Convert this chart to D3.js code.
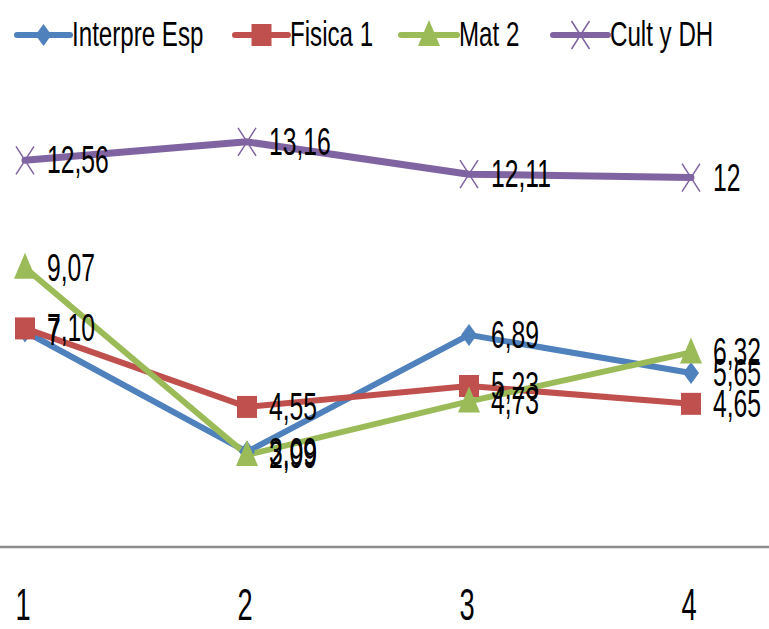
<!DOCTYPE html>
<html>
<head>
<meta charset="utf-8">
<script src="https://cdn.jsdelivr.net/npm/d3@7"></script>
<style>
html,body{margin:0;padding:0;background:#fff;}
svg{display:block;}
text{font-family:"Liberation Sans",Arial,sans-serif;fill:#000;}
</style>
</head>
<body>
<svg id="chart" width="769" height="629"></svg>
<script>
const categories = ["1","2","3","4"];
const seriesNames = ["Interpre Esp","Fisica 1","Mat 2","Cult y DH"];
const interpreEsp = [7.00, 3.09, 6.89, 5.65];
const fisica1 = [7.10, 4.55, 5.23, 4.65];
const mat2 = [9.07, 2.99, 4.73, 6.32];
const cultDH = [12.56, 13.16, 12.11, 12];
const colors = ["#4F81BD","#C0504D","#9BBB59","#8064A2"];
const markers = ["diamond","square","triangle","cross"];

const series = [interpreEsp, fisica1, mat2, cultDH].map((v,i)=>({name:seriesNames[i], values:v, color:colors[i], marker:markers[i]}));

const svg = d3.select("#chart");
const x = d3.scalePoint().domain(categories).range([25, 691]);
const y = d3.scaleLinear().domain([0, 14]).range([547, 116]);

const fmt = v => (Number.isInteger(v) ? String(v) : v.toFixed(2).replace(".", ","));

// baseline axis
svg.append("line").attr("x1",0).attr("x2",769).attr("y1",y(0)).attr("y2",y(0))
  .attr("stroke","#8c8c8c").attr("stroke-width",2.5);

// category labels
svg.append("g").selectAll("text").data(categories).join("text")
  .attr("transform", d => `translate(${x(d)-2},620) scale(0.62,1)`)
  .attr("text-anchor","middle").attr("font-size",44).text(d=>d);

function drawMarker(g, type, color){
  if(type==="diamond"){
    g.append("path").attr("d","M0,-11L8,0L0,11L-8,0Z").attr("fill",color);
  } else if(type==="square"){
    g.append("rect").attr("x",-10).attr("y",-11).attr("width",20).attr("height",22).attr("fill",color);
  } else if(type==="triangle"){
    g.append("path").attr("d","M0,-15L11,11L-11,11Z").attr("fill",color);
  } else {
    g.append("path").attr("d","M-9,-14L9,14M-9,14L9,-14").attr("stroke",color).attr("stroke-width",1.5).attr("fill","none");
  }
}

const line = d3.line().x((d,i)=>x(categories[i])).y(d=>y(d));

series.forEach(s=>{
  svg.append("path").attr("d", line(s.values)).attr("fill","none")
    .attr("stroke", s.color).attr("stroke-width", s.marker==="cross"?7:6)
    .attr("stroke-linejoin","round").attr("stroke-linecap","round");
});
series.forEach(s=>{
  s.values.forEach((v,i)=>{
    const g = svg.append("g").attr("transform",`translate(${x(categories[i])},${y(v)})`);
    drawMarker(g, s.marker, s.color);
  });
});
series.forEach(s=>{
  s.values.forEach((v,i)=>{
    svg.append("text")
      .attr("transform",`translate(${x(categories[i])+22},${y(v)+13}) scale(0.65,1)`)
      .attr("font-size",38).text(fmt(v));
  });
});

// legend
const legendPos = [{lx:17, tx:72},{lx:235, tx:290},{lx:401, tx:459},{lx:553, tx:610}];
series.forEach((s,i)=>{
  const p = legendPos[i];
  const g = svg.append("g");
  g.append("line").attr("x1",p.lx).attr("x2",p.tx-2).attr("y1",35).attr("y2",35)
    .attr("stroke",s.color).attr("stroke-width",6).attr("stroke-linecap","round");
  const m = g.append("g").attr("transform",`translate(${(p.lx+p.tx-2)/2},35)`);
  drawMarker(m, s.marker, s.color);
  g.append("text").attr("transform",`translate(${p.tx},46) scale(0.69,1)`)
    .attr("font-size",35).text(s.name);
});
</script>
</body>
</html>
